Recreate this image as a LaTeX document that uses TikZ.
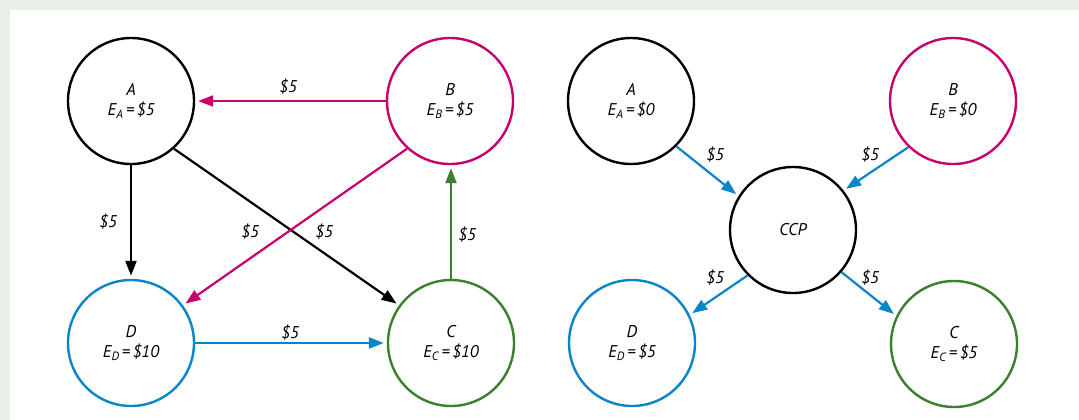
\documentclass[tikz,border=0pt]{standalone}
\usepackage{fontspec}
\setmainfont{PT Sans}
\usetikzlibrary{arrows.meta}
\definecolor{bgg}{HTML}{EAF1EA}
\definecolor{pk}{HTML}{C8006E}
\definecolor{bl}{HTML}{0A85C8}
\definecolor{gn}{HTML}{3C7F2E}
\newcommand\mysub[1]{\raisebox{-0.4ex}{\fontsize{12}{12}\selectfont #1}}
\newcommand\myeq{\kern3pt=\kern2.5pt}
\tikzset{
  acct/.style={circle, draw=#1, line width=2.4pt, minimum size=126pt, inner sep=0pt,
    align=center, font=\fontsize{17}{20}\selectfont\itshape},
  flow/.style={draw=#1, line width=2.2pt, -{Triangle[length=15pt,width=11pt]}, shorten >=3pt},
  lbl/.style={font=\fontsize{17}{18}\selectfont\itshape, inner sep=0pt}
}
\begin{document}
\begin{tikzpicture}[x=1pt,y=-1pt]
\useasboundingbox (0,0) rectangle (1079,420);
\fill[bgg] (0,0) rectangle (1079,420);
\fill[white] (10,10) rectangle (1079,420);
% left
\node[acct=black] (A) at (131,101) {A\\E\mysub{A}\myeq\$5};
\node[acct=pk] (B) at (450,101) {B\\E\mysub{B}\myeq\$5};
\node[acct=bl] (D) at (131,343) {D\\E\mysub{D}\myeq\$10};
\node[acct=gn] (C) at (451,343) {C\\E\mysub{C}\myeq\$10};
\draw[flow=pk] (B.west) -- (B.west -| A.east);
\draw[flow=black] (A.south) -- (A.south |- D.north);
\draw[flow=black] (A.-48) -- (C.144);
\draw[flow=pk] (B.228) -- (D.36);
\draw[flow=gn] (C.north) -- (C.north |- B.south);
\draw[flow=bl] (D.east) -- (D.east -| C.west);
\node[lbl] (l1) at (288,87) {\$5};
\node[lbl] (l2) at (108,222) {\$5};
\node[lbl] (l3) at (250,232) {\$5};
\node[lbl] (l4) at (324,232) {\$5};
\node[lbl] (l5) at (467,235) {\$5};
\node[lbl] (l6) at (290,333) {\$5};
% right
\node[acct=black] (A2) at (631,101) {A\\E\mysub{A}\myeq\$0};
\node[acct=pk] (B2) at (953,101) {B\\E\mysub{B}\myeq\$0};
\node[acct=black] (P) at (793,230) {CCP};
\node[acct=bl] (D2) at (632,343) {D\\E\mysub{D}\myeq\$5};
\node[acct=gn] (C2) at (954,344) {C\\E\mysub{C}\myeq\$5};
\draw[flow=bl] (A2.-45) -- (P.148);
\draw[flow=bl] (B2.226) -- (P.38);
\draw[flow=bl] (P.225) -- (D2.26);
\draw[flow=bl] (P.-41) -- (C2.154);
\node[lbl] (r1) at (715,155) {\$5};
\node[lbl] (r2) at (870,155) {\$5};
\node[lbl] (r3) at (715,278) {\$5};
\node[lbl] (r4) at (870,278) {\$5};
\end{tikzpicture}
\end{document}
